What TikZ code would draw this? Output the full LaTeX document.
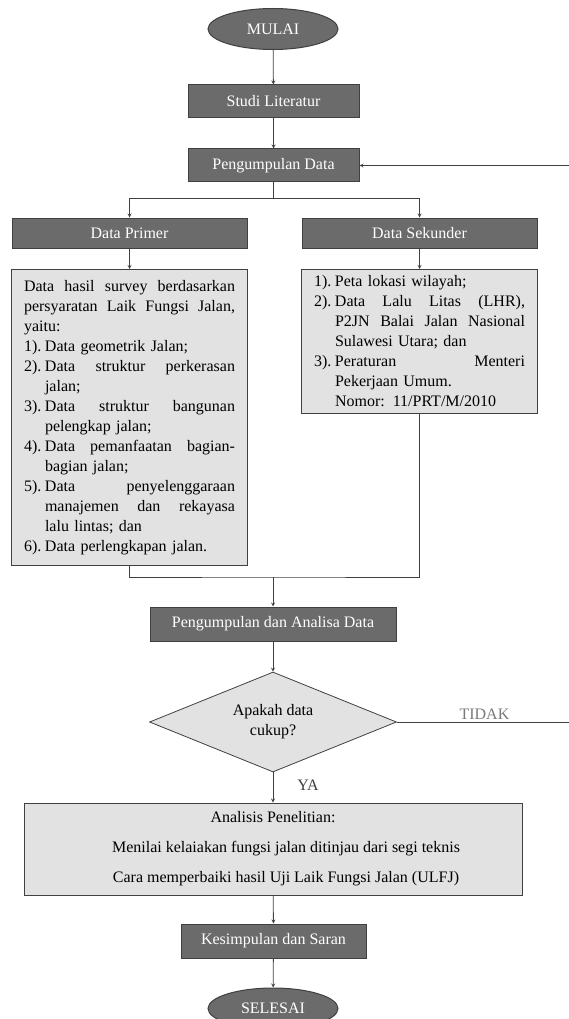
\documentclass[tikz,border=0pt]{standalone}
\usepackage{fontspec}
\setmainfont{Liberation Serif}
\usepackage{xcolor}
\usepackage{tikz}
\usetikzlibrary{shapes.geometric}

\definecolor{boxdark}{HTML}{6B6B6B}
\definecolor{boxlight}{HTML}{E2E2E2}
\definecolor{edgegray}{HTML}{404040}
\definecolor{labelgray}{HTML}{7A7A7A}

% lines of the list boxes
\newcommand{\jline}[1]{\hbox to 211pt{\frenchspacing\spaceskip=0.25em plus 1fil\relax\xspaceskip=\spaceskip #1}}
\newcommand{\rline}[1]{\hbox to 211pt{#1\hfil}}
\newcommand{\numlbl}[1]{\makebox[21pt][l]{#1}}
\newcommand{\hangsp}{\hspace*{21pt}}

\begin{document}
\begin{tikzpicture}[x=1pt, y=-1pt, font=\fontsize{16}{20}\selectfont]
        % Define styles
        \tikzset{
            terminal/.style={ellipse, draw=edgegray, line width=1pt, fill=boxdark, text=white, minimum width=130pt, minimum height=41pt, inner sep=0pt},
            process/.style={rectangle, draw=edgegray, line width=1pt, fill=boxdark, text=white, minimum height=33pt, inner sep=0pt},
            infobox/.style={rectangle, draw=edgegray, line width=1pt, fill=boxlight, text width=211pt, inner xsep=12.5pt, anchor=north},
            decision/.style={diamond, draw=edgegray, line width=0.8pt, fill=boxlight, aspect=2.5, minimum width=247pt, minimum height=100pt, inner sep=0pt, align=center},
            arrow/.style={->,>=stealth, line width=0.8pt, draw=edgegray}
        }
        \useasboundingbox (0,0) rectangle (569,1019);

        % Nodes
        \node[terminal] (mulai) at (273,29) {MULAI};
        \node[process, minimum width=171pt] (studi) at (273.5,101.5) {Studi Literatur};
        \node[process, minimum width=171pt] (kumpul) at (273.5,165.5) {Pengumpulan Data};
        \node[process, minimum width=235pt, minimum height=30pt] (primer) at (129.5,233) {Data Primer};
        \node[process, minimum width=235pt, minimum height=30pt] (sekunder) at (419.5,233) {Data Sekunder};

        \node[infobox, minimum height=296pt] (ptext) at (129.5,269) {%
            \jline{Data hasil survey berdasarkan}
            \jline{persyaratan Laik Fungsi Jalan,}
            \rline{yaitu:}
            \rline{\numlbl{1).}Data geometrik Jalan;}
            \jline{\numlbl{2).}Data struktur perkerasan}
            \rline{\hangsp jalan;}
            \jline{\numlbl{3).}Data struktur bangunan}
            \rline{\hangsp pelengkap jalan;}
            \jline{\numlbl{4).}Data pemanfaatan bagian-}
            \rline{\hangsp bagian jalan;}
            \jline{\numlbl{5).}Data penyelenggaraan}
            \jline{\hangsp manajemen dan rekayasa}
            \rline{\hangsp lalu lintas; dan}
            \rline{\numlbl{6).}Data perlengkapan jalan.}};
        \node[infobox, minimum height=144pt] (stext) at (419.5,269) {%
            \rline{\numlbl{1).}Peta lokasi wilayah;}
            \jline{\numlbl{2).}Data Lalu Litas (LHR),}
            \jline{\hangsp P2JN Balai Jalan Nasional}
            \rline{\hangsp Sulawesi Utara; dan}
            \jline{\numlbl{3).}Peraturan Menteri}
            \rline{\hangsp Pekerjaan Umum.}
            \rline{\hangsp Nomor: 11/PRT/M/2010}};

        \node[process, minimum width=246pt, minimum height=34pt] (analisa) at (273,624) {Pengumpulan dan Analisa Data};
        \node[decision] (cukup) at (273,722) {Apakah data\\cukup?};
        \node[rectangle, draw=edgegray, line width=1pt, fill=boxlight, minimum width=498pt, minimum height=92pt, align=center,
              font=\fontsize{16}{30}\selectfont] (analisis) at (273,849)
            {Analisis Penelitian:\\\hspace*{26pt}Menilai kelaiakan fungsi jalan ditinjau dari segi teknis\\\hspace*{26pt}Cara memperbaiki hasil Uji Laik Fungsi Jalan (ULFJ)};
        \node[process, minimum width=185pt, minimum height=34pt] (simpul) at (273.5,941) {Kesimpulan dan Saran};
        \node[terminal] (selesai) at (273,1008.5) {SELESAI};
        \node[text=edgegray] (ya) at (308,785) {YA};

        \coordinate (split) at (273.5,198);
        \coordinate (merge) at (273,577);
        \coordinate (back) at (572,722);

        % Arrows
        \draw[arrow] (mulai) -- (studi);
        \draw[arrow] (studi) -- (kumpul);
        \draw[arrow, -] (kumpul) -- (split);
        \draw[arrow] (split) -| (primer);
        \draw[arrow] (split) -| (sekunder);
        \draw[arrow] (primer) -- (ptext);
        \draw[arrow] (sekunder) -- (stext);
        \draw[arrow, -] (ptext.south) |- (merge) -| (stext.south);
        \draw[arrow] (merge) -- (analisa);
        \draw[arrow] (analisa) -- (cukup);
        \draw[arrow] (cukup.east) -- node[above, text=labelgray, inner sep=2pt] (tidak) {TIDAK} (back) |- (kumpul.east);
        \draw[arrow] (cukup) -- (analisis);
        \draw[arrow] (analisis) -- (simpul);
        \draw[arrow] (simpul) -- (selesai);
    \end{tikzpicture}
\end{document}
